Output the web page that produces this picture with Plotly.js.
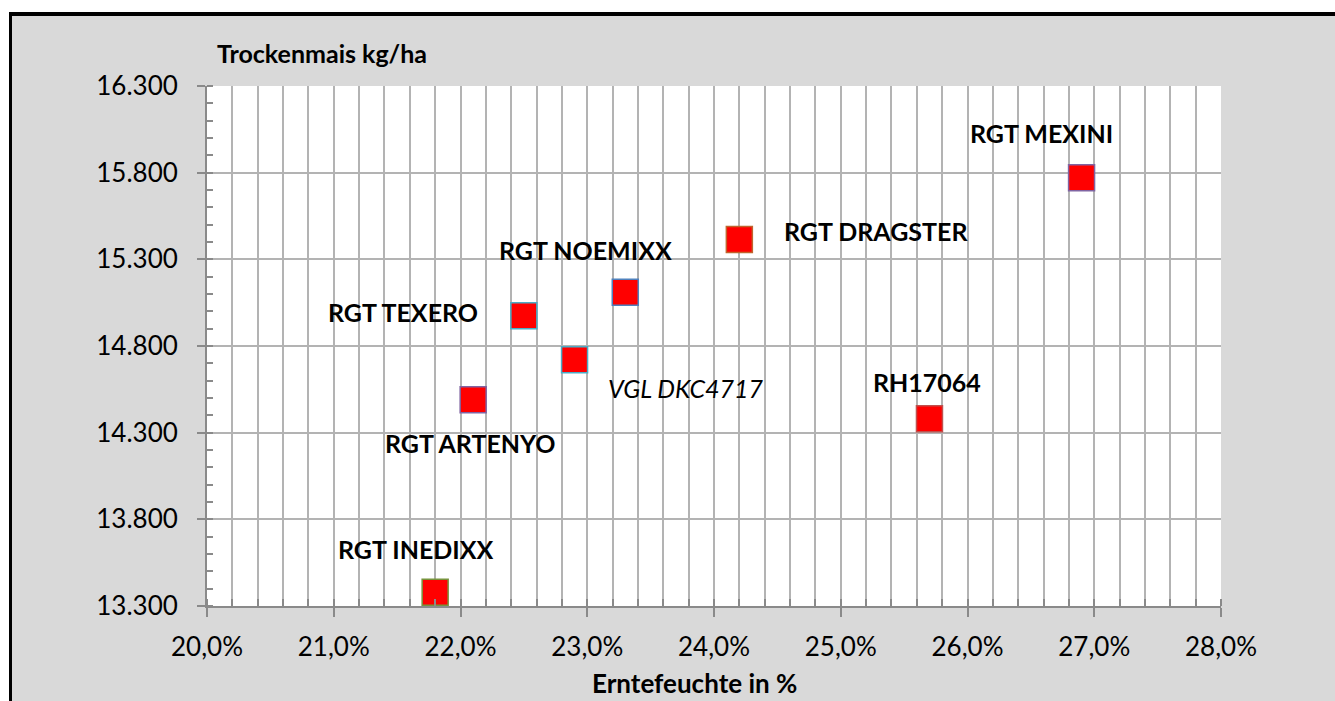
<!DOCTYPE html>
<html>
<head>
<meta charset="utf-8">
<script src="https://cdn.plot.ly/plotly-3.0.1.min.js"></script>
<style>
  html, body { margin:0; padding:0; background:#ffffff; }
  #wrap { position:relative; width:1335px; height:701px; overflow:hidden; }
  #frame { position:absolute; left:9px; top:12px; width:1400px; height:800px;
           background:#d9d9d9; border-top:4px solid #000; border-left:3px solid #000; }
  #chart { position:absolute; left:0; top:0; width:1335px; height:701px; }
</style>
</head>
<body>
<div id="wrap">
  <div id="frame"></div>
  <div id="chart"></div>
</div>
<script>
// ---- data ----
const sorten = ["RGT INEDIXX", "RGT ARTENYO", "RGT TEXERO", "VGL DKC4717", "RGT NOEMIXX", "RGT DRAGSTER", "RGT MEXINI", "RH17064"];
const erntefeuchte = [0.218, 0.221, 0.225, 0.229, 0.233, 0.242, 0.269, 0.257];
const trockenmais = [13380, 14490, 14975, 14720, 15110, 15415, 15770, 14380];
const xTickVals = [0.20, 0.21, 0.22, 0.23, 0.24, 0.25, 0.26, 0.27, 0.28];
const yTickVals = [13300, 13800, 14300, 14800, 15300, 15800, 16300];

// ---- styling (not data) ----
const markerLineColors = ["#77933c", "#8064a2", "#4bacc6", "#4bacc6", "#4f81bd", "#c0642d", "#8064a2", "#c0504d"];
const labelShift = [[-20, 43], [-3, -43], [-121, 4], [111, -28], [-40, 42], [137, 8], [-40, 45], [-2, 37]];
const FONT = "Lato, 'Open Sans', sans-serif";

const trace = {
  type: "scatter", mode: "markers",
  x: erntefeuchte, y: trockenmais, text: sorten,
  marker: { symbol: "square", size: 26, color: "#ff0000",
            line: { width: 1.5, color: markerLineColors } },
  hoverinfo: "text"
};

const annotations = sorten.map((s, i) => ({
  x: erntefeuchte[i], y: trockenmais[i], xref: "x", yref: "y",
  text: s.startsWith("VGL") ? "<i>" + s + "</i>" : "<b>" + s + "</b>",
  showarrow: false, xshift: labelShift[i][0], yshift: labelShift[i][1],
  font: { family: FONT, size: 25, color: "#000" }
}));
annotations.push({
  xref: "paper", yref: "paper", x: 0.008, y: 1.0, yshift: 33, xanchor: "left", yanchor: "middle",
  text: "<b>Trockenmais kg/ha</b>", showarrow: false,
  font: { family: FONT, size: 25, color: "#000" }
});
annotations.push({
  xref: "paper", yref: "paper", x: 0.481, y: 0, yshift: -77, xanchor: "center", yanchor: "middle",
  text: "<b>Erntefeuchte in %</b>", showarrow: false,
  font: { family: FONT, size: 26, color: "#000" }
});

const layout = {
  width: 1335, height: 701,
  margin: { l: 207, r: 114, t: 86, b: 95 },
  paper_bgcolor: "rgba(0,0,0,0)", plot_bgcolor: "#ffffff",
  separators: ",.",
  showlegend: false,
  font: { family: FONT, size: 26, color: "#000" },
  xaxis: {
    range: [0.20, 0.28], tickvals: xTickVals, tickformat: ".1%",
    showgrid: true, gridcolor: "#b3b3b3", gridwidth: 2,
    showline: true, linecolor: "#8a8a8a", linewidth: 2,
    ticks: "outside", ticklen: 9, tickcolor: "#8a8a8a", tickwidth: 2,
    ticklabelstandoff: 8,
    minor: { dtick: 0.002, showgrid: true, gridcolor: "#b3b3b3", gridwidth: 2,
             ticks: "inside", ticklen: 7, tickcolor: "#8a8a8a", tickwidth: 2 },
    zeroline: false, fixedrange: true,
    tickfont: { family: FONT, size: 26, color: "#000" }
  },
  yaxis: {
    range: [13300, 16300], tickvals: yTickVals, tickformat: ",d",
    showgrid: true, gridcolor: "#b3b3b3", gridwidth: 2,
    showline: true, linecolor: "#8a8a8a", linewidth: 2,
    ticks: "outside", ticklen: 8, tickcolor: "#8a8a8a", tickwidth: 2,
    ticklabelstandoff: 14,
    minor: { dtick: 100, showgrid: false, ticks: "inside", ticklen: 6, tickcolor: "#8a8a8a", tickwidth: 2 },
    zeroline: false, fixedrange: true,
    tickfont: { family: FONT, size: 26, color: "#000" }
  },
  annotations: annotations
};

Plotly.newPlot("chart", [trace], layout, { displayModeBar: false, staticPlot: true });
</script>
</body>
</html>
